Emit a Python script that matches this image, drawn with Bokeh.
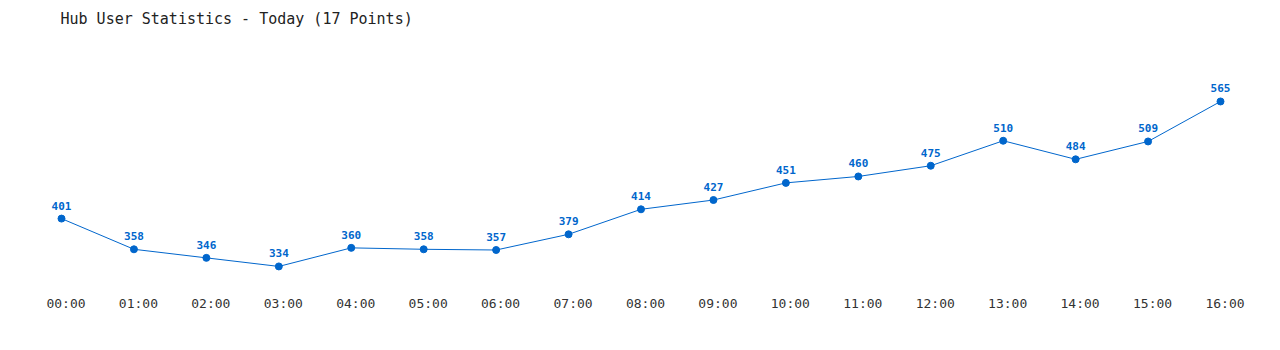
from bokeh.plotting import figure
from bokeh.models import Range1d, FixedTicker, Label, ColumnDataSource, LinearAxis
from bokeh.core.properties import value
from bokeh.embed import file_html
from bokeh.resources import INLINE

hours = ["00:00", "01:00", "02:00", "03:00", "04:00", "05:00", "06:00", "07:00", "08:00",
         "09:00", "10:00", "11:00", "12:00", "13:00", "14:00", "15:00", "16:00"]
users = [401, 358, 346, 334, 360, 358, 357, 379, 414, 427, 451, 460, 475, 510, 484, 509, 565]

idx = list(range(len(hours)))
src = ColumnDataSource(dict(x=idx, y=users, lab=[str(v) for v in users]))

FONT = "DejaVu Sans Mono"
BLUE = "#0066cc"

X0, X1 = -0.566, 16.552
SHIFT = 0.062  # tick labels sit a few pixels right of the points

p = figure(width=1280, height=350, output_backend="svg", toolbar_location=None,
           x_range=Range1d(X0, X1), y_range=Range1d(303.1, 706.4),
           x_axis_location=None, y_axis_location=None,
           min_border_left=20, min_border_right=20, min_border_top=0, min_border_bottom=62)
p.outline_line_color = None
p.grid.visible = False
p.background_fill_color = "white"
p.border_fill_color = "white"

p.extra_x_ranges = {"lab": Range1d(X0 - SHIFT, X1 - SHIFT)}
ax = LinearAxis(x_range_name="lab")
ax.ticker = FixedTicker(ticks=idx)
ax.major_label_overrides = {i: h for i, h in zip(idx, hours)}
ax.axis_line_color = None
ax.major_tick_line_color = None
ax.minor_tick_line_color = None
ax.major_tick_out = 0
ax.major_tick_in = 0
ax.major_label_standoff = 7
ax.major_label_text_font = FONT
ax.major_label_text_font_size = "13px"
ax.major_label_text_color = "#333333"
p.add_layout(ax, "below")

p.line("x", "y", source=src, line_color=BLUE, line_width=1)
p.scatter("x", "y", source=src, size=7, fill_color=BLUE, line_color=BLUE)
p.text("x", "y", text="lab", source=src, text_font=value(FONT), text_font_size="11px",
       text_font_style="bold", text_color=BLUE, text_align="center",
       text_baseline="bottom", y_offset=-9)

p.add_layout(Label(x=40, y=270, x_units="screen", y_units="screen",
                   text="Hub User Statistics - Today (17 Points)", text_font=FONT,
                   text_font_size="15px", text_color="#222222", text_baseline="middle"))

open("out.html", "w").write(file_html(p, INLINE))
